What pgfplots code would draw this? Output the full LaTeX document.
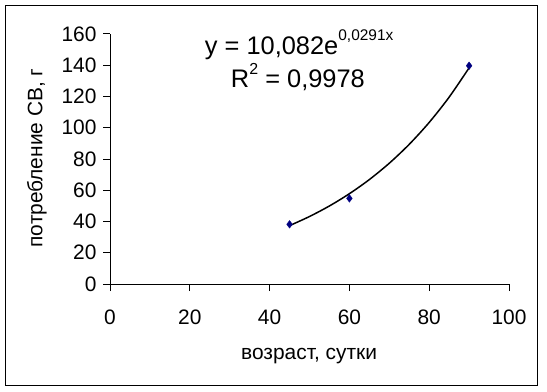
\documentclass[border=0pt]{standalone}
\usepackage{pgfplots}
\pgfplotsset{compat=1.18}
\usepackage{fontspec}
\setmainfont{Liberation Sans}
\definecolor{navymark}{RGB}{0,0,128}
\begin{document}
\begin{tikzpicture}[x=1bp,y=1bp]
\useasboundingbox (0,0) rectangle (547,391);
\draw[line width=1bp] (5.5,5.5) rectangle (537.5,385.5);
\begin{axis}[
  at={(110bp,107bp)}, anchor=south west,
  scale only axis, width=399bp, height=250bp,
  xmin=0, xmax=100, ymin=0, ymax=160,
  xtick distance=20, ytick distance=20,
  axis x line*=bottom, axis y line*=left,
  axis line style={-, line width=1bp},
  tick style={line width=1bp, black},
  tick align=outside, major tick length=7bp,
  /pgf/number format/assume math mode=true,
  ticklabel style={font=\fontsize{21}{24}\selectfont},
  xticklabel style={yshift=-15bp},
  yticklabel style={xshift=-3bp},
  xlabel={возраст, сутки},
  ylabel={потребление СВ, г},
  label style={font=\fontsize{21}{24}\selectfont},
  xlabel style={at={(axis description cs:0.499,-0.288)}, anchor=center},
  ylabel style={at={(axis description cs:-0.183,0.504)}, anchor=center, rotate=0},
  clip=false,
]
\addplot[black, line width=1.5bp, smooth, no marks] coordinates {
(45,37.35) (50,43.20) (55,49.96) (60,57.79) (65,66.84) (70,77.31) (75,89.41) (80,103.42) (85,119.61) (90,138.35)};
\addplot[only marks, mark=diamond*, mark size=3.8bp, color=navymark] coordinates {
(45,38.2) (60,54.8) (90,139.7)};
\node[anchor=base, font=\fontsize{25.5}{28}\selectfont] at (axis description cs:0.474,0.916)
  {y = 10,082e\raisebox{14bp}{\fontsize{15.5}{17}\selectfont 0,0291x}};
\node[anchor=base, font=\fontsize{25.5}{28}\selectfont] at (axis description cs:0.471,0.784)
  {R\raisebox{13bp}{\fontsize{16}{18}\selectfont 2} = 0,9978};
\end{axis}
\end{tikzpicture}
\end{document}
